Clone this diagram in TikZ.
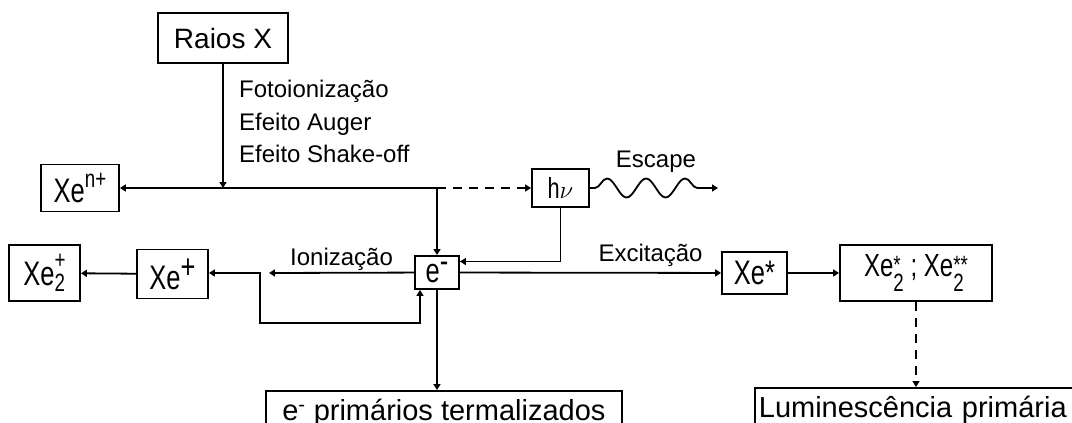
\documentclass[tikz,border=0pt]{standalone}
\usepackage{amsmath}
\usepackage{fontspec}
\setmainfont{Liberation Sans}
\newfontfamily\chemfont[FakeStretch=0.75]{Liberation Sans}
\usetikzlibrary{arrows.meta,decorations.pathmorphing}

% raised index: size, raise, text
\newcommand{\chemup}[3]{\raisebox{#2}{\fontsize{#1}{#1}\selectfont #3}}
% stacked indices: sub, sup, lower, raise
\newcommand{\chemss}[4]{\begingroup
    \setbox0\hbox{\raisebox{-#3}{\fontsize{25}{25}\selectfont #1}}%
    \setbox2\hbox{\raisebox{#4}{\fontsize{25}{25}\selectfont #2}}%
    \ifdim\wd0>\wd2 \rlap{\box2}\box0 \else \rlap{\box0}\box2 \fi\endgroup}

\begin{document}
\begin{tikzpicture}[x=1pt, y=-1pt,
    >={Triangle[length=6pt,width=7pt]},
    box/.style={draw, line width=1.8pt, inner sep=0pt, font=\chemfont\fontsize{34}{36}\selectfont},
    lbl/.style={inner sep=0pt, font=\fontsize{24}{27}\selectfont},
    link/.style={line width=1.8pt, ->},
    dashlink/.style={link, dash pattern=on 9pt off 7pt}]
    \useasboundingbox (0,0) rectangle (1072,423);
    \clip (0,0) rectangle (1072,423);

    % Source
    \node[box, font=\fontsize{28}{30}\selectfont, minimum width=130pt, minimum height=50pt] (raios) at (223,38) {Raios X};
    \node[lbl, anchor=base west] (foto) at (239,97) {Fotoionização};
    \node[lbl, anchor=base west] (auger) at (239,130) {Efeito Auger};
    \node[lbl, anchor=base west] (shake) at (239,162) {Efeito Shake-off};

    % Ions
    \node[box, minimum width=78pt, minimum height=47pt] (xen) at (80,188) {Xe\chemup{25}{15pt}{n+}};
    \node[box, minimum width=71pt, minimum height=49pt] (xep) at (172.5,274) {Xe\chemup{34}{11pt}{+}};
    \node[box, minimum width=71pt, minimum height=56pt] (xetwop) at (44.5,273) {Xe\chemss{2}{+}{6pt}{17pt}};

    % Electron and photon
    \node[box, minimum width=44pt, minimum height=33pt] (elec) at (437,272.5) {e\chemup{34}{10pt}{-}};
    \node[box, font=\chemfont\fontsize{29}{31}\selectfont, minimum width=57pt, minimum height=38pt] (hv) at (560.5,188) {h$\nu$};
    \node[lbl, anchor=base] (escape) at (656,167) {Escape};

    % Excited states
    \node[box, minimum width=65pt, minimum height=42pt] (xestar) at (754.5,273) {Xe*};
    \node[box, font=\chemfont\fontsize{32}{34}\selectfont, minimum width=152pt, minimum height=56pt] (xetwostar) at (916,273)
        {Xe\chemss{2}{*}{15pt}{3pt} ; Xe\chemss{2}{**}{15pt}{3pt}};

    % Final products
    \node[draw, line width=1.8pt, anchor=north west, inner sep=0pt, minimum width=356pt, minimum height=44pt,
        text height=22pt, text depth=6pt, font=\fontsize{29}{31}\selectfont] (prim) at (265,390) {e$^{\text{-}}$ primários termalizados};
    \node[draw, line width=1.8pt, anchor=north west, inner xsep=4pt, inner ysep=0pt, text width=380pt, align=left,
        minimum height=44pt, text height=22pt, text depth=6pt, font=\fontsize{29}{31}\selectfont] (lum) at (754,387) {Luminescência primária};

    % Junctions
    \coordinate (jray) at (223,188);
    \coordinate (jsplit) at (437,188);
    \coordinate (esc) at (718,188);
    \coordinate (ionend) at (269,273);
    \coordinate (loopa) at (260,273);
    \coordinate (loopb) at (260,323);

    % Connections
    \draw[link] (raios) -- (jray);
    \draw[link] (jsplit) -- (xen);
    \draw[link] (jsplit) -- (elec);
    \draw[dashlink] (jsplit) -- (hv);
    \draw[link, decorate, decoration={snake, amplitude=9.5pt, segment length=39pt, pre length=5pt, post length=7pt}] (hv) -- (esc);
    \draw[link] (hv) |- ([yshift=11pt]elec.east);
    \draw[link] (elec) -- (ionend) node[lbl, midway, above=1pt] {Ionização};
    \draw[link, <->] (xep.east |- loopa) -- (loopa) -- (loopb) -| ([xshift=-17pt]elec.south);
    \draw[link] (xep) -- (xetwop);
    \draw[link] (elec) -- (elec |- prim.north);
    \draw[link] (elec) -- (xestar) node[lbl, pos=0.73, above=5pt] {Excitação};
    \draw[link] (xestar) -- (xetwostar);
    \draw[dashlink] (xetwostar) -- (xetwostar |- lum.north);
\end{tikzpicture}
\end{document}
